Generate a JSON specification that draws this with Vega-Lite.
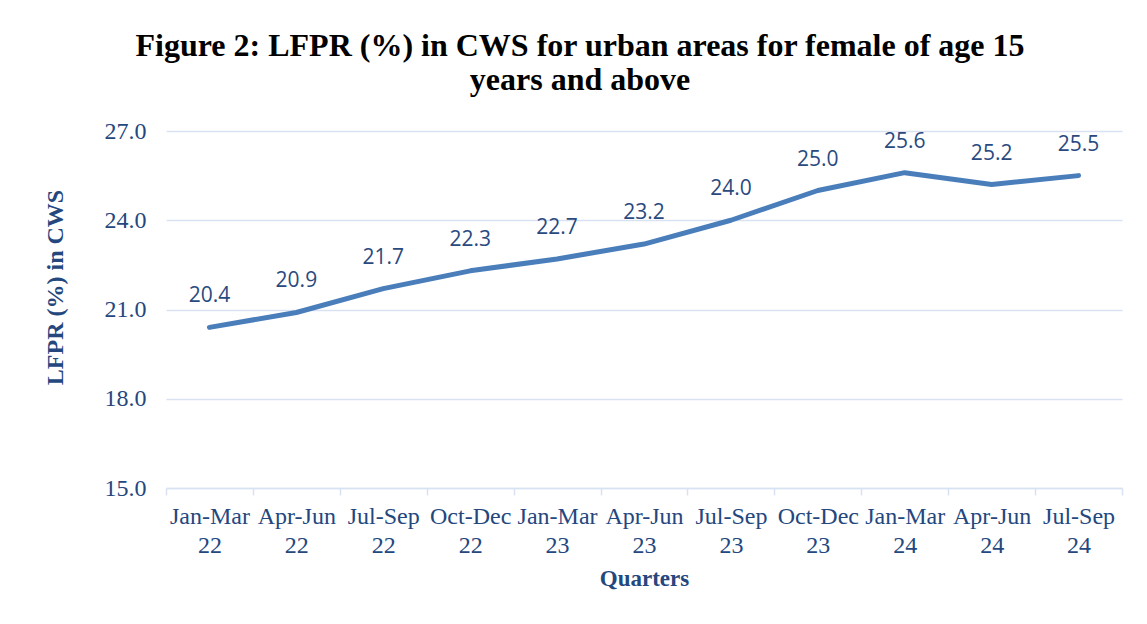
{
  "$schema": "https://vega.github.io/schema/vega-lite/v6.json",
  "width": 956,
  "height": 357,
  "autosize": {"type": "none"},
  "padding": {"left": 166, "top": 131, "right": 25, "bottom": 136},
  "background": "white",
  "title": {
    "text": ["Figure 2: LFPR (%) in CWS for urban areas for female of age 15", "years and above"],
    "font": "Liberation Serif",
    "fontSize": 32,
    "fontWeight": "bold",
    "color": "black",
    "lineHeight": 34,
    "anchor": "middle",
    "dx": -64,
    "offset": 22
  },
  "data": {
    "values": [
      {"q": "Jan-Mar 22", "v": 20.4},
      {"q": "Apr-Jun 22", "v": 20.9},
      {"q": "Jul-Sep 22", "v": 21.7},
      {"q": "Oct-Dec 22", "v": 22.3},
      {"q": "Jan-Mar 23", "v": 22.7},
      {"q": "Apr-Jun 23", "v": 23.2},
      {"q": "Jul-Sep 23", "v": 24.0},
      {"q": "Oct-Dec 23", "v": 25.0},
      {"q": "Jan-Mar 24", "v": 25.6},
      {"q": "Apr-Jun 24", "v": 25.2},
      {"q": "Jul-Sep 24", "v": 25.5}
    ]
  },
  "config": {
    "view": {"stroke": null},
    "axis": {
      "labelFont": "Liberation Serif",
      "titleFont": "Liberation Serif",
      "labelColor": "#24477e",
      "titleColor": "#24477e",
      "gridColor": "#d9e2f3",
      "gridWidth": 1.5,
      "domainColor": "#d9e2f3",
      "tickColor": "#d9e2f3"
    }
  },
  "encoding": {
    "x": {
      "field": "q",
      "type": "nominal",
      "sort": null,
      "bandPosition": 0.5,
      "scale": {"type": "band", "paddingInner": 0, "paddingOuter": 0},
      "axis": {
        "title": "Quarters",
        "titleFontSize": 23,
        "titleFontWeight": "bold",
        "titleY": 97,
        "titleBaseline": "alphabetic",
        "labelAngle": 0,
        "labelFontSize": 24,
        "labelLineHeight": 29,
        "labelExpr": "isValid(datum.value) ? split(datum.value, ' ') : ''",
        "labelPadding": 9,
        "tickBand": "extent",
        "tickSize": 7,
        "tickWidth": 1.5,
        "domainWidth": 1.5,
        "grid": false
      }
    },
    "y": {
      "field": "v",
      "type": "quantitative",
      "scale": {"domain": [15, 27], "nice": false, "zero": false},
      "axis": {
        "values": [15, 18, 21, 24, 27],
        "format": ".1f",
        "labelFontSize": 24,
        "labelPadding": 20,
        "domain": false,
        "ticks": false,
        "title": "LFPR (%) in CWS",
        "titleFontSize": 24,
        "titleFontWeight": "bold",
        "titleAngle": -90,
        "titleX": -104,
        "titleY": 156,
        "titleAlign": "center",
        "titleBaseline": "alphabetic"
      }
    }
  },
  "layer": [
    {
      "mark": {"type": "line", "color": "#4a7ebb", "strokeWidth": 5, "strokeCap": "round", "strokeJoin": "round"}
    },
    {
      "mark": {"type": "text", "font": "Open Sans", "fontSize": 21, "color": "#2a4a7f", "dy": -25, "baseline": "alphabetic"},
      "encoding": {
        "text": {"field": "v", "type": "quantitative", "format": ".1f"}
      }
    }
  ]
}
